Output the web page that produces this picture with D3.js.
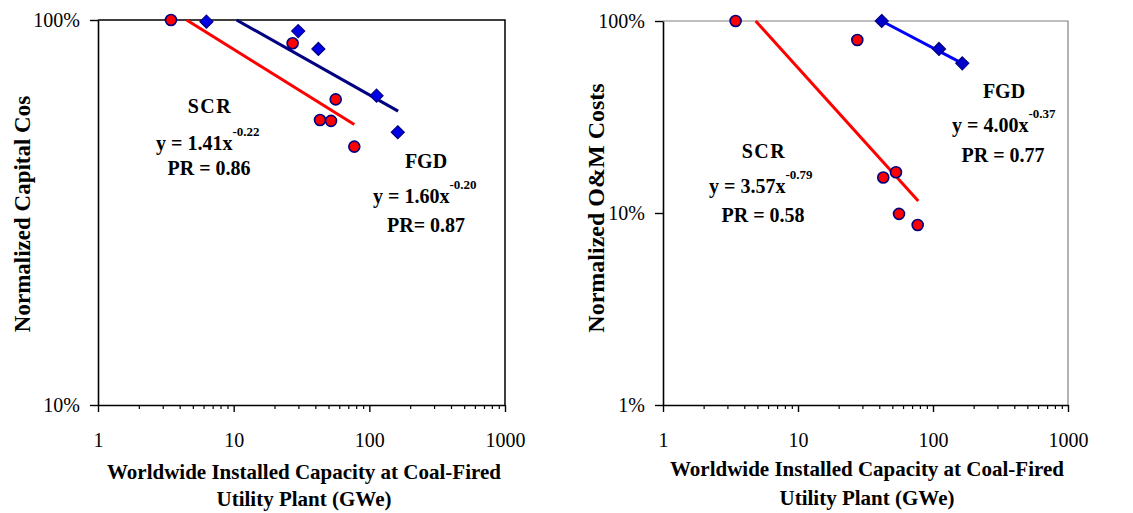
<!DOCTYPE html>
<html>
<head>
<meta charset="utf-8">
<script src="https://cdn.jsdelivr.net/npm/d3@7"></script>
<style>
  body { margin: 0; background: #fff; }
  svg text { font-family: "Liberation Serif", "Times New Roman", serif; fill: #000; }
</style>
</head>
<body>
<svg width="1133" height="513"></svg>
<script>
// tick values
const xTicks = [1, 10, 100, 1000];
const xMinor = [2, 3, 4, 5, 6, 7, 8, 9, 20, 30, 40, 50, 60, 70, 80, 90, 200, 300, 400, 500, 600, 700, 800, 900];
const capYTicks = [0.1, 1];
const omYTicks = [0.01, 0.1, 1];

// left: normalized capital cost
const capScrX = [3.45, 27.2, 56.5, 43.3, 52.2, 77.5];
const capScrY = [1.0, 0.87, 0.622, 0.55, 0.547, 0.469];
const capFgdX = [6.3, 29.9, 42.1, 113, 162];
const capFgdY = [0.99, 0.936, 0.841, 0.636, 0.511];
const capScrFitX = [4.5, 77.5];
const capScrFitY = [1.0, 0.535];
const capFgdFitX = [10.5, 163];
const capFgdFitY = [1.0, 0.58];

// right: normalized O&M cost
const omScrX = [3.45, 27.5, 42.8, 53.2, 56, 77];
const omScrY = [1.0, 0.796, 0.153, 0.163, 0.099, 0.0866];
const omFgdX = [41.7, 110.8, 164.8];
const omFgdY = [1.0, 0.715, 0.602];
const omScrFitX = [4.86, 77.8];
const omScrFitY = [1.0, 0.1155];
const omFgdFitX = [41.7, 164.8];
const omFgdFitY = [1.0, 0.602];

const zip = (xs, ys) => xs.map((x, i) => ({x: x, y: ys[i]}));

const panels = [
  {
    left: 98, right: 505, top: 20, bottom: 405,
    yDomain: [0.1, 1], yTicks: capYTicks, frame: "#000", frameW: 1.5,
    yTitle: "Normalized Capital Cos", yTitleX: 30, yTitleY: 214, yTitleSize: 23,
    xTitleX: 304, xTitleY: [479, 506],
    scr: zip(capScrX, capScrY), fgd: zip(capFgdX, capFgdY),
    scrFit: zip(capScrFitX, capScrFitY), fgdFit: zip(capFgdFitX, capFgdFitY),
    fgdLine: "#000080", fgdFill: "#0000e6",
    notes: [
      {t: "SCR", x: 210, y: 113, anchor: "middle"},
      {t: "y = 1.41x", sup: "-0.22", x: 156, y: 150},
      {t: "PR = 0.86", x: 209, y: 175, anchor: "middle"},
      {t: "FGD", x: 426, y: 168, anchor: "middle"},
      {t: "y = 1.60x", sup: "-0.20", x: 373, y: 203},
      {t: "PR= 0.87", x: 426, y: 232, anchor: "middle"}
    ]
  },
  {
    left: 663, right: 1068, top: 21, bottom: 405,
    yDomain: [0.01, 1], yTicks: omYTicks, frame: "#808080", frameW: 1.2,
    yTitle: "Normalized O&M Costs", yTitleX: 604, yTitleY: 208, yTitleSize: 24,
    xTitleX: 867, xTitleY: [476, 505],
    scr: zip(omScrX, omScrY), fgd: zip(omFgdX, omFgdY),
    scrFit: zip(omScrFitX, omScrFitY), fgdFit: zip(omFgdFitX, omFgdFitY),
    fgdLine: "#0000ff", fgdFill: "#0000cc",
    notes: [
      {t: "FGD", x: 1004, y: 98, anchor: "middle"},
      {t: "y = 4.00x", sup: "-0.37", x: 952, y: 132},
      {t: "PR = 0.77", x: 1003, y: 162, anchor: "middle"},
      {t: "SCR", x: 764, y: 158, anchor: "middle"},
      {t: "y = 3.57x", sup: "-0.79", x: 709, y: 193},
      {t: "PR = 0.58", x: 763, y: 222, anchor: "middle"}
    ]
  }
];

const svg = d3.select("svg");

panels.forEach(p => {
  let x = d3.scaleLog().domain([1, 1000]).range([p.left, p.right]);
  let y = d3.scaleLog().domain(p.yDomain).range([p.bottom, p.top]);
  let g = svg.append("g");

  // frame top / right
  g.append("path")
    .attr("d", `M${p.left},${p.top}H${p.right}V${p.bottom}`)
    .attr("fill", "none")
    .attr("stroke", p.frame)
    .attr("stroke-width", p.frameW);

  // minor x ticks
  g.append("g")
    .attr("transform", "translate(0," + p.bottom + ")")
    .call(d3.axisBottom(x).tickValues(xMinor).tickSize(4).tickFormat(""))
    .call(a => a.select(".domain").remove())
    .selectAll("line").attr("stroke-width", 1.2);

  // major x ticks
  g.append("g")
    .attr("transform", "translate(0," + p.bottom + ")")
    .call(d3.axisBottom(x).tickValues(xTicks).tickFormat(d3.format("d")).tickSize(7).tickSizeOuter(0).tickPadding(21))
    .call(a => a.select(".domain").attr("stroke-width", 1.6))
    .call(a => a.selectAll("line").attr("stroke-width", 1.4))
    .call(a => a.selectAll("text").attr("font-size", 20).attr("font-family", "Liberation Serif"));

  // y axis
  g.append("g")
    .attr("transform", "translate(" + p.left + ",0)")
    .call(d3.axisLeft(y).tickValues(p.yTicks).tickFormat(d => Math.round(d * 100) + "%").tickSize(8).tickSizeOuter(0).tickPadding(10))
    .call(a => a.select(".domain").attr("stroke-width", 1.6))
    .call(a => a.selectAll("line").attr("stroke-width", 1.4))
    .call(a => a.selectAll("text").attr("font-size", 20).attr("font-family", "Liberation Serif"));

  // fitted lines
  let line = d3.line().x(d => x(d.x)).y(d => y(d.y));
  g.append("path").attr("d", line(p.scrFit))
    .attr("fill", "none").attr("stroke", "#ff0000").attr("stroke-width", 3);
  g.append("path").attr("d", line(p.fgdFit))
    .attr("fill", "none").attr("stroke", p.fgdLine).attr("stroke-width", 3);

  // FGD diamonds
  g.selectAll(".fgd").data(p.fgd).enter().append("path")
    .attr("class", "fgd")
    .attr("transform", d => "translate(" + x(d.x) + "," + y(d.y) + ")")
    .attr("d", "M0,-6.5L6.5,0L0,6.5L-6.5,0Z")
    .attr("fill", p.fgdFill)
    .attr("stroke", "#000080")
    .attr("stroke-width", 1.2);

  // SCR circles
  g.selectAll(".scr").data(p.scr).enter().append("circle")
    .attr("class", "scr")
    .attr("cx", d => x(d.x))
    .attr("cy", d => y(d.y))
    .attr("r", 5.5)
    .attr("fill", "#ff0000")
    .attr("stroke", "#000080")
    .attr("stroke-width", 1.6);

  // annotations
  p.notes.forEach(n => {
    let t = g.append("text")
      .attr("x", n.x).attr("y", n.y)
      .attr("text-anchor", n.anchor || "start")
      .attr("font-size", 20).attr("font-weight", "bold")
      .attr("letter-spacing", n.t == "SCR" ? 1.5 : 0)
      .text(n.t);
    if (n.sup) {
      t.append("tspan").attr("font-size", 13).attr("dy", -14).text(n.sup);
    }
  });

  // axis titles
  g.append("text")
    .attr("transform", "translate(" + p.yTitleX + "," + p.yTitleY + ") rotate(-90)")
    .attr("text-anchor", "middle")
    .attr("font-size", p.yTitleSize).attr("font-weight", "bold")
    .text(p.yTitle);

  g.append("text")
    .attr("x", p.xTitleX).attr("y", p.xTitleY[0])
    .attr("text-anchor", "middle")
    .attr("font-size", 21).attr("font-weight", "bold")
    .text("Worldwide Installed Capacity at Coal-Fired");
  g.append("text")
    .attr("x", p.xTitleX).attr("y", p.xTitleY[1])
    .attr("text-anchor", "middle")
    .attr("font-size", 21).attr("font-weight", "bold")
    .text("Utility Plant (GWe)");
});
</script>
</body>
</html>
